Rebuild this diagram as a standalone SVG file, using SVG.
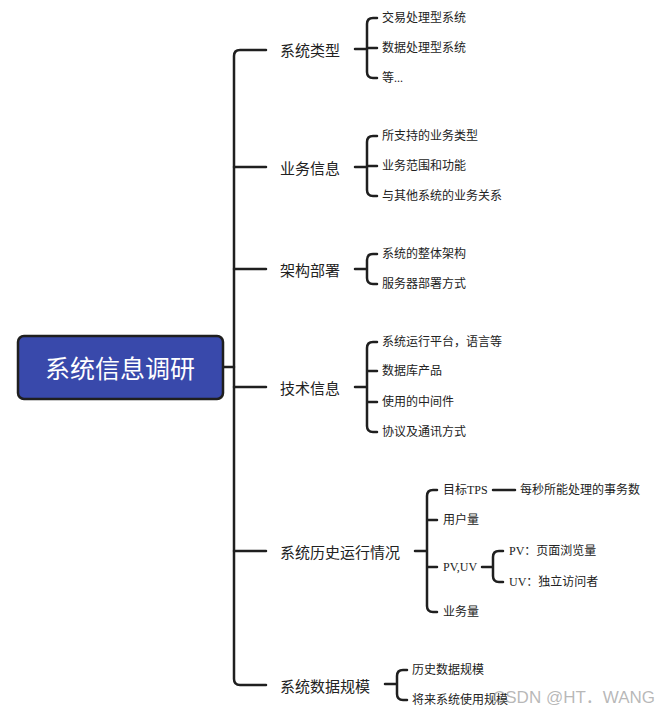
<svg xmlns="http://www.w3.org/2000/svg" width="668" height="714" viewBox="0 0 668 714">
<style>
.ln{fill:none;stroke:#1f1f1f;stroke-width:2.5;stroke-linecap:round;stroke-linejoin:round}
.t1{font-family:"Noto Sans CJK SC","Liberation Sans",sans-serif;font-size:15px;fill:#222;dominant-baseline:central}
.t2{font-family:"Liberation Serif","Noto Sans CJK SC",serif;font-size:12px;fill:#222;dominant-baseline:central}
.root{font-family:"Noto Sans CJK SC","Liberation Sans",sans-serif;font-size:25px;fill:#fff;dominant-baseline:central;text-anchor:middle}
</style>
<rect width="668" height="714" fill="#fff"/>
<g id="connectors">
<path class="ln" d="M223,367 H234"/>
<path class="ln" d="M266,50 H240 Q234,50 234,56 V679 Q234,685 240,685 H266"/>
<path class="ln" d="M234,167 H266 M234,269 H266 M234,387 H266 M234,551 H266"/>
<path class="ln" d="M355,49 H367 M377,18 H373 Q367,18 367,24 V72 Q367,78 373,78 H377 M367,48 H377"/>
<path class="ln" d="M355,167 H367 M377,136 H373 Q367,136 367,142 V190 Q367,196 373,196 H377 M367,166 H377"/>
<path class="ln" d="M355,269 H367 M377,254 H373 Q367,254 367,260 V278 Q367,284 373,284 H377"/>
<path class="ln" d="M355,387 H367 M377,342 H373 Q367,342 367,348 V426 Q367,432 373,432 H377 M367,371 H377 M367,402 H377"/>
<path class="ln" d="M415,551 H427 M437,490 H433 Q427,490 427,496 V606 Q427,612 433,612 H437 M427,520 H437 M427,567 H437"/>
<path class="ln" d="M493,490 H515"/>
<path class="ln" d="M482,567 H493 M503,551 H499 Q493,551 493,557 V576 Q493,582 499,582 H503"/>
<path class="ln" d="M385,684 H397 M407,670 H403 Q397,670 397,676 V694 Q397,700 403,700 H407"/>
</g>
<g id="root">
<rect x="18" y="336" width="205" height="63" rx="6" fill="#3949ab" stroke="#1f1f1f" stroke-width="2.5"/>
<text class="root" x="120" y="367">系统信息调研</text>
</g>
<g id="n1"><text class="t1" x="280" y="49">系统类型</text></g>
<g id="n1a"><text class="t2" x="382" y="18">交易处理型系统</text></g>
<g id="n1b"><text class="t2" x="382" y="48">数据处理型系统</text></g>
<g id="n1c"><text class="t2" x="382" y="78">等...</text></g>
<g id="n2"><text class="t1" x="280" y="167">业务信息</text></g>
<g id="n2a"><text class="t2" x="382" y="136">所支持的业务类型</text></g>
<g id="n2b"><text class="t2" x="382" y="166">业务范围和功能</text></g>
<g id="n2c"><text class="t2" x="382" y="196">与其他系统的业务关系</text></g>
<g id="n3"><text class="t1" x="280" y="269">架构部署</text></g>
<g id="n3a"><text class="t2" x="382" y="254">系统的整体架构</text></g>
<g id="n3b"><text class="t2" x="382" y="284">服务器部署方式</text></g>
<g id="n4"><text class="t1" x="280" y="387">技术信息</text></g>
<g id="n4a"><text class="t2" x="382" y="342">系统运行平台，语言等</text></g>
<g id="n4b"><text class="t2" x="382" y="371">数据库产品</text></g>
<g id="n4c"><text class="t2" x="382" y="402">使用的中间件</text></g>
<g id="n4d"><text class="t2" x="382" y="432">协议及通讯方式</text></g>
<g id="n5"><text class="t1" x="280" y="551">系统历史运行情况</text></g>
<g id="n5a"><text class="t2" x="443" y="490">目标TPS</text></g>
<g id="n5a1"><text class="t2" x="520" y="490">每秒所能处理的事务数</text></g>
<g id="n5b"><text class="t2" x="443" y="520">用户量</text></g>
<g id="n5c"><text class="t2" x="443" y="567">PV,UV</text></g>
<g id="n5c1"><text class="t2" x="509" y="551">PV：页面浏览量</text></g>
<g id="n5c2"><text class="t2" x="509" y="582">UV：独立访问者</text></g>
<g id="n5d"><text class="t2" x="443" y="612">业务量</text></g>
<g id="n6"><text class="t1" x="280" y="685">系统数据规模</text></g>
<g id="n6a"><text class="t2" x="412" y="670">历史数据规模</text></g>
<g id="n6b"><text class="t2" x="412" y="700">将来系统使用规模</text></g>
<text x="493" y="697" font-family="'Liberation Sans','Noto Sans CJK SC',sans-serif" font-size="17" fill="#999" fill-opacity="0.7" dominant-baseline="central">CSDN @HT．WANG</text>
</svg>
